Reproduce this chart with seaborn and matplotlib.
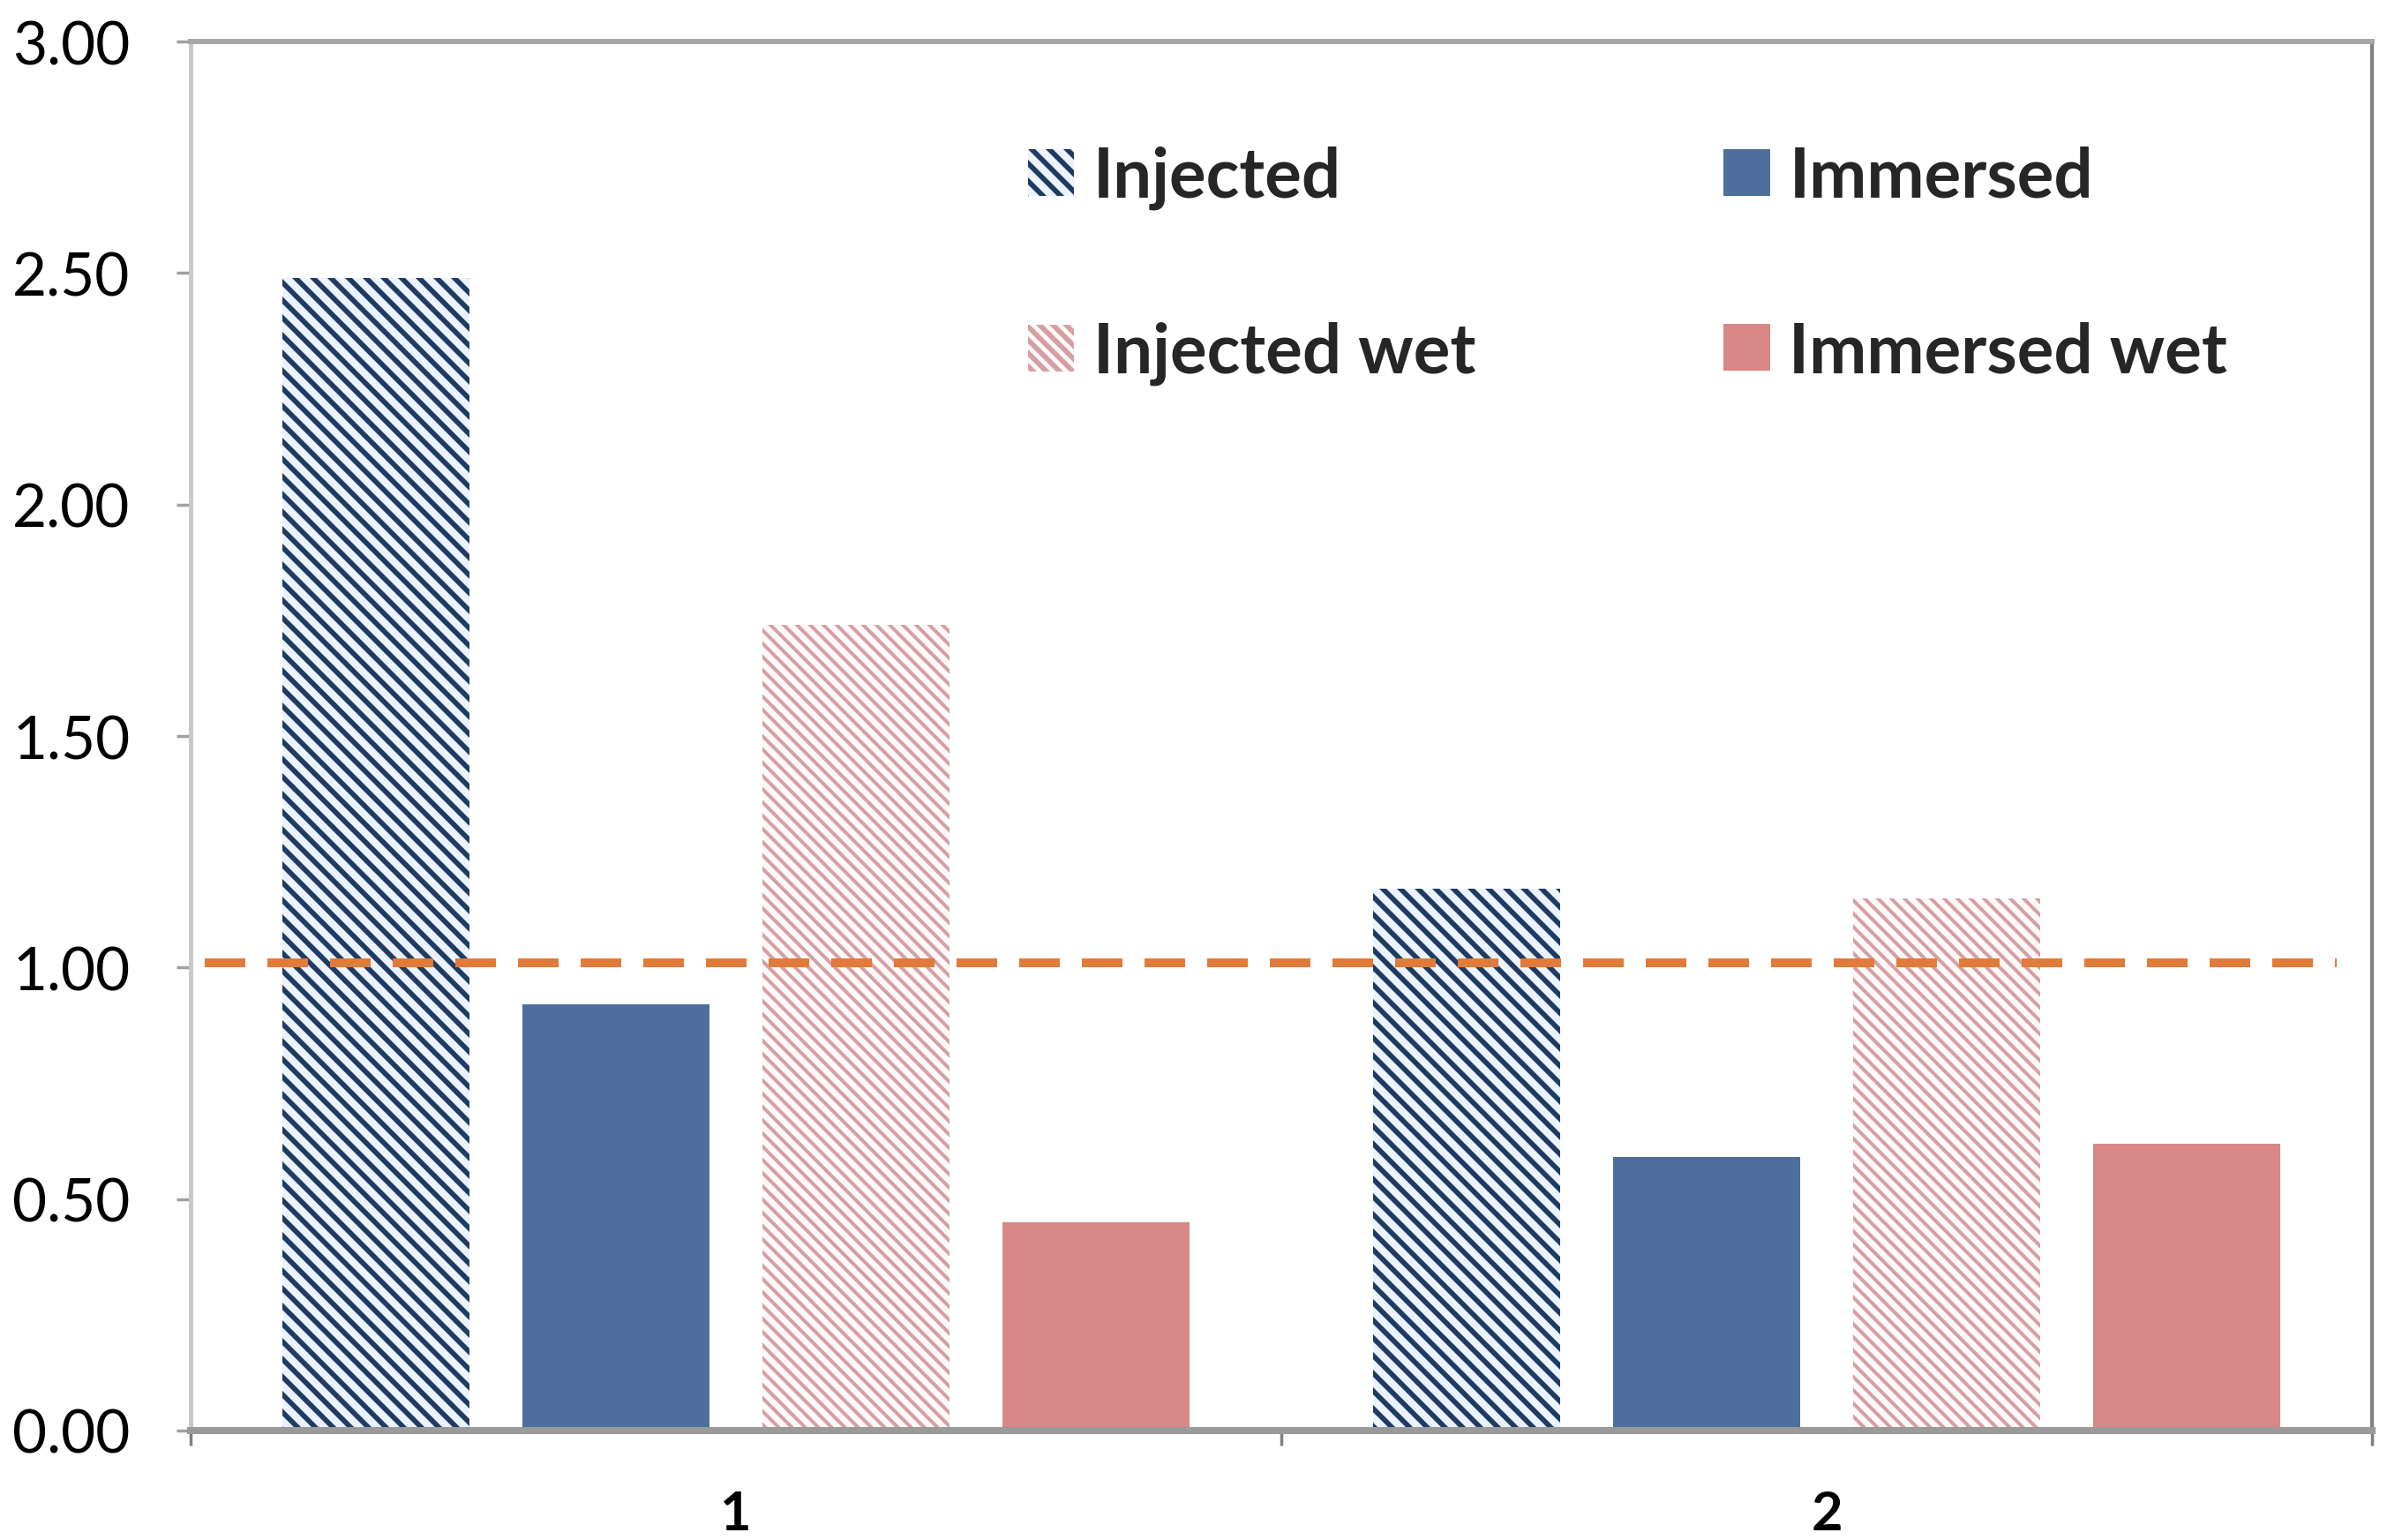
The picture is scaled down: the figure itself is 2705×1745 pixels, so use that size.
import matplotlib
matplotlib.use('Agg')
import matplotlib.pyplot as plt
import pandas as pd
import seaborn as sns
from matplotlib.ticker import FormatStrFormatter

# chart values
groups = ['1', '2']
series = ['Injected', 'Immersed', 'Injected wet', 'Immersed wet']
injected = [2.49, 1.17]
immersed = [0.92, 0.59]
injected_wet = [1.74, 1.15]
immersed_wet = [0.45, 0.62]
reference_level = 1.01
y_ticks = [0.0, 0.5, 1.0, 1.5, 2.0, 2.5, 3.0]

df = pd.DataFrame({
    'group': groups * 4,
    'series': [s for s in series for _ in groups],
    'value': injected + immersed + injected_wet + immersed_wet,
})

sns.set_style('white')
plt.rcParams['font.family'] = ['Lato', 'DejaVu Sans']
plt.rcParams['hatch.linewidth'] = 2.3

DPI = 180
W, H = 2705, 1746
fig = plt.figure(figsize=(W / DPI, H / DPI), dpi=DPI)
ax = fig.add_axes([216 / W, 1 - 1622 / H, (2688 - 216) / W, (1622 - 48) / H])

sns.barplot(data=df, x='group', y='value', hue='series', hue_order=series, order=groups,
            width=0.88, gap=0.22, errorbar=None, legend=False, saturation=1, ax=ax)

styles = {
    'Injected': dict(face='#EAF3FF', edge='#1F3B63', hatch='\\\\\\', hlw=2.3),
    'Immersed': dict(face='#4E6F9E', edge='#4E6F9E', hatch=None, hlw=None),
    'Injected wet': dict(face='#FFF8F8', edge='#D4A0A4', hatch='\\\\\\\\', hlw=1.6),
    'Immersed wet': dict(face='#D98686', edge='#D98686', hatch=None, hlw=None),
}
for cont, name in zip(ax.containers, series):
    st = styles[name]
    for bar in cont:
        bar.set_facecolor(st['face'])
        bar.set_edgecolor(st['edge'])
        bar.set_linewidth(0)
        if st['hatch']:
            bar.set_hatch(st['hatch'])
            if hasattr(bar, 'set_hatch_linewidth'):
                bar.set_hatch_linewidth(st['hlw'])

# reference line
ax.axhline(reference_level, xmin=0.0065, xmax=0.984, color='#E07B39', lw=4.0,
           dashes=(4.6, 2.5), zorder=5)

# legend laid out in rows: Injected / Immersed, then the wet pair
cont_by_name = dict(zip(series, ax.containers))
leg_order = ['Injected', 'Injected wet', 'Immersed', 'Immersed wet']
ax.legend(handles=[cont_by_name[n] for n in leg_order], labels=leg_order, ncol=2,
          loc='upper left', bbox_to_anchor=(1165 / W, 0.905), bbox_transform=fig.transFigure,
          frameon=False, prop={'weight': 'bold', 'size': 31.2},
          handlelength=0.67, handleheight=0.67, handletextpad=0.28,
          columnspacing=3.6, labelspacing=1.62, borderpad=0, borderaxespad=0)

# axes
ax.set_ylim(0, 3)
ax.set_yticks(y_ticks)
ax.yaxis.set_major_formatter(FormatStrFormatter('%.2f'))
ax.tick_params(axis='y', left=True, direction='out', length=6.6, width=1.4,
               color='#A0A0A0', pad=20.8, labelsize=27, labelcolor='black')
ax.set_xlim(-0.5, 1.5)
ax.tick_params(axis='x', which='major', length=0, pad=26.4, labelsize=24.5, labelcolor='black')
for label in ax.get_xticklabels():
    label.set_fontweight('bold')
ax.set_xticks([-0.5, 0.5, 1.5], minor=True)
ax.tick_params(axis='x', which='minor', bottom=True, direction='out', length=6.6, width=1.4,
               color='#808080')
ax.set_xlabel('')
ax.set_ylabel('')

ax.spines['top'].set_color('#A6A6A6')
ax.spines['top'].set_linewidth(2.36)
ax.spines['bottom'].set_color('#9A9A9A')
ax.spines['bottom'].set_linewidth(3.2)
ax.spines['left'].set_color('#C8C8C8')
ax.spines['left'].set_linewidth(1.9)
ax.spines['right'].set_color('#808080')
ax.spines['right'].set_linewidth(1.7)

fig.savefig('out.png', dpi=DPI)
